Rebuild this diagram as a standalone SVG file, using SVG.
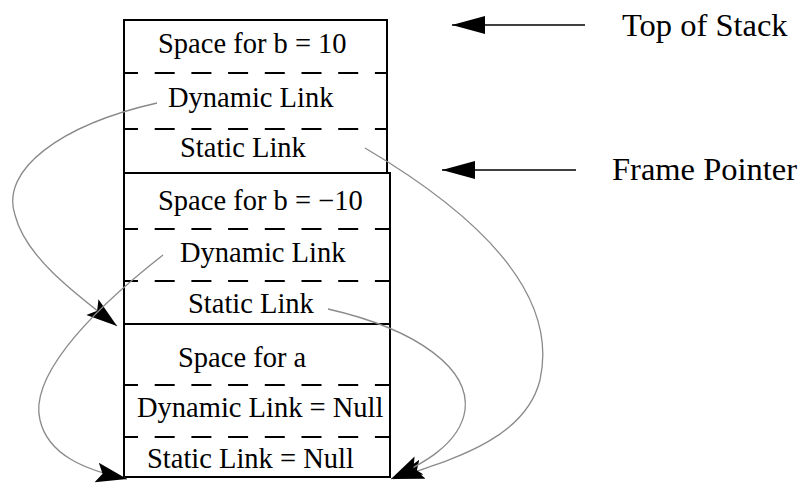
<svg xmlns="http://www.w3.org/2000/svg" width="804" height="488" viewBox="0 0 804 488">
<style>
.box{fill:none;stroke:#000;stroke-width:2}
.dash{stroke:#000;stroke-width:2;stroke-dasharray:20 16.7}
.t{font-family:"Liberation Serif","Times New Roman",serif;font-size:28.5px;fill:#000}
.lbl{font-family:"Liberation Serif","Times New Roman",serif;font-size:32.5px;fill:#000}
.link{fill:none;stroke:#8a8a8a;stroke-width:1.3}
.ptr{fill:none;stroke:#000;stroke-width:1.6}
</style>
<defs>
<marker id="ah" markerUnits="userSpaceOnUse" markerWidth="34" markerHeight="22" refX="31" refY="10" orient="auto">
<path d="M0,0 L31,10 L0,20 L6,10 z" fill="#000"/>
</marker>
<marker id="ph" markerUnits="userSpaceOnUse" markerWidth="36" markerHeight="20" refX="33" refY="9" orient="auto">
<path d="M0,0 L33,9 L0,18 z" fill="#000"/>
</marker>
</defs>
<g id="frame1">
<rect class="box" x="124" y="20" width="263" height="153"/>
<line class="dash" x1="124" y1="73" x2="387" y2="73" stroke-dashoffset="6"/>
<line class="dash" x1="124" y1="129" x2="387" y2="129" stroke-dashoffset="6"/>
<text class="t" x="158" y="53">Space for b = 10</text>
<text class="t" x="168" y="107">Dynamic Link</text>
<text class="t" x="180" y="157">Static Link</text>
</g>
<g id="frame2">
<rect class="box" x="124" y="173" width="266" height="151"/>
<line class="dash" x1="124" y1="229" x2="390" y2="229" stroke-dashoffset="6"/>
<line class="dash" x1="124" y1="281" x2="390" y2="281" stroke-dashoffset="6"/>
<text class="t" x="158" y="210">Space for b = −10</text>
<text class="t" x="180" y="262">Dynamic Link</text>
<text class="t" x="188" y="313">Static Link</text>
</g>
<g id="frame3">
<rect class="box" x="124" y="324" width="266" height="153"/>
<line class="dash" x1="124" y1="385" x2="390" y2="385" stroke-dashoffset="6"/>
<line class="dash" x1="124" y1="437" x2="390" y2="437" stroke-dashoffset="6"/>
<text class="t" x="178" y="367">Space for a</text>
<text class="t" x="137" y="417">Dynamic Link = Null</text>
<text class="t" x="147" y="468">Static Link = Null</text>
</g>
<g id="top-of-stack">
<text class="lbl" x="622" y="36">Top of Stack</text>
</g>
<g id="frame-pointer">
<text class="lbl" x="612" y="180">Frame Pointer</text>
</g>
<g id="connectors">
<line class="ptr" x1="585" y1="25" x2="452" y2="25" marker-end="url(#ph)"/>
<line class="ptr" x1="576" y1="170" x2="442" y2="170" marker-end="url(#ph)"/>
<path class="link" d="M157,103 C60,125 0,170 15,215 C25,255 70,290 117,326" marker-end="url(#ah)"/>
<path class="link" d="M163,255 C80,320 30,380 40,420 C48,455 85,470 127,479" marker-end="url(#ah)"/>
<path class="link" d="M365,148 C470,210 560,290 540,380 C525,440 450,460 393,479" marker-end="url(#ah)"/>
<path class="link" d="M328,309 C420,330 470,370 465,410 C460,445 420,465 391,479" marker-end="url(#ah)"/>
</g>
</svg>
